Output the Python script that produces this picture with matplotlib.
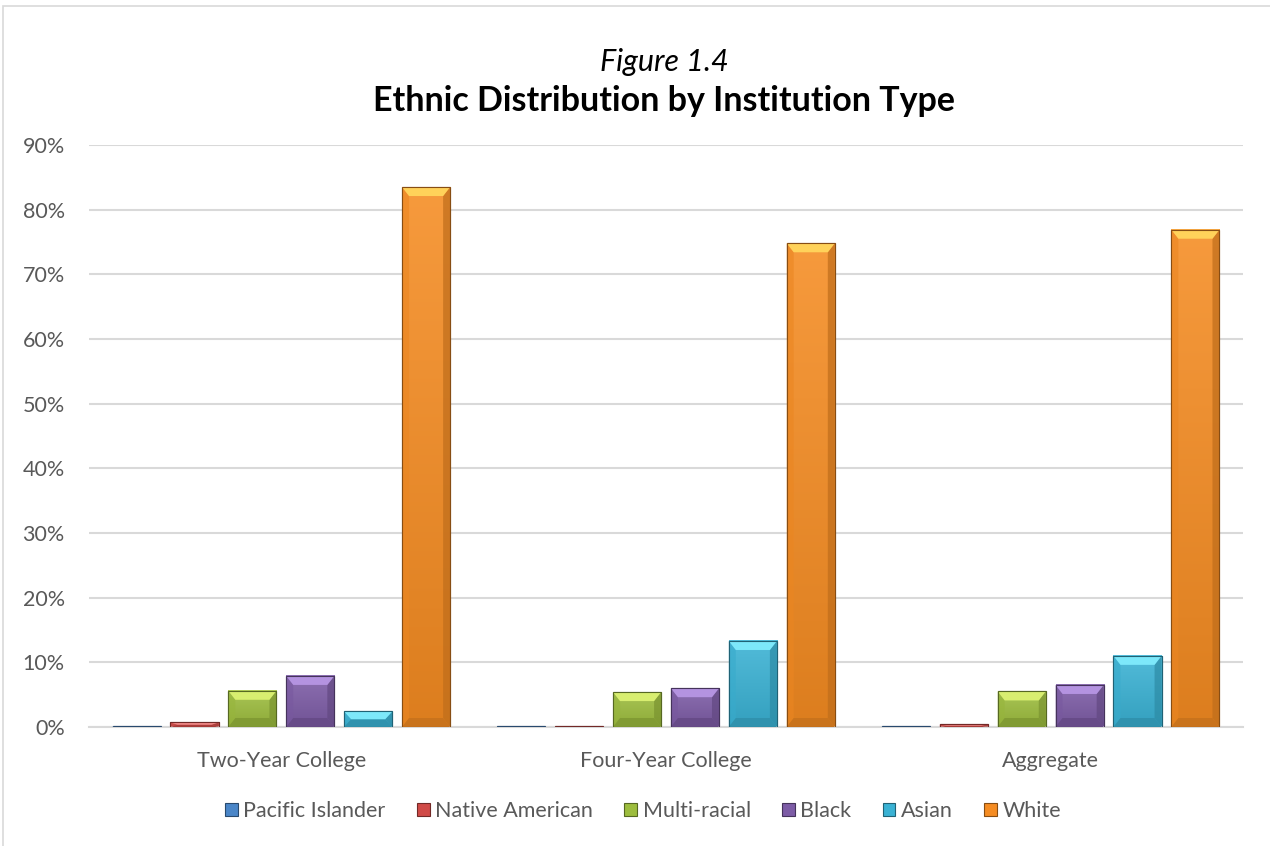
import matplotlib
matplotlib.use("Agg")
import matplotlib.pyplot as plt
from matplotlib.patches import Polygon, Rectangle
from matplotlib.ticker import FuncFormatter
import matplotlib.colors as mcolors
import numpy as np

plt.rcParams['font.family'] = ['Lato', 'DejaVu Sans']

categories = ["Two-Year College", "Four-Year College", "Aggregate"]
series = ["Pacific Islander", "Native American", "Multi-racial", "Black", "Asian", "White"]
pacific_islander = [0.001, 0.001, 0.001]
native_american = [0.007, 0.001, 0.004]
multi_racial = [0.056, 0.054, 0.055]
black = [0.079, 0.060, 0.065]
asian = [0.024, 0.133, 0.110]
white = [0.835, 0.748, 0.769]
values = [pacific_islander, native_american, multi_racial, black, asian, white]
colors = ["#4A86C8", "#D04A47", "#9DBD3E", "#7D5CA6", "#3AB2D4", "#F58C22"]
bevel_colors = ["#8EC0F0", "#F08A88", "#D8EE70", "#B493E0", "#7DE8FA", "#FFD25A"]
yticks = [0, 0.1, 0.2, 0.3, 0.4, 0.5, 0.6, 0.7, 0.8, 0.9]

W, H = 1270, 846
fig = plt.figure(figsize=(W / 100, H / 100), dpi=100)
fig.patch.set_facecolor("white")

# chart border
fig.add_artist(Rectangle((3 / W, -0.1), 1.2, 1 - 6 / H + 0.1, transform=fig.transFigure,
                         fill=False, edgecolor="#D9D9D9", linewidth=1.2))

ax_l, ax_r = 89 / W, 1243 / W
ax_b, ax_t = 1 - 727 / H, 1 - 145 / H
ax = fig.add_axes([ax_l, ax_b, ax_r - ax_l, ax_t - ax_b])
ax_h_px = (ax_t - ax_b) * H
ax_w_px = (ax_r - ax_l) * W

for s in ["top", "right", "left"]:
    ax.spines[s].set_visible(False)
ax.spines["bottom"].set_color("#D9D9D9")
ax.spines["bottom"].set_linewidth(1.5)
ax.set_yticks(yticks)
ax.yaxis.set_major_formatter(FuncFormatter(lambda v, p: f"{v*100:.0f}%"))
ax.grid(axis="y", color="#D9D9D9", linewidth=1.5)
ax.set_axisbelow(True)
ax.tick_params(axis="both", length=0, labelsize=15.5, colors="#595959")
ax.tick_params(axis="y", pad=17.5)
ax.tick_params(axis="x", pad=17)
ax.set_xticks(range(len(categories)))
ax.set_xticklabels(categories)

step = 57.8 / 384
width = 48 / 384
x = np.arange(len(categories))


def shade(c, f):
    r, g, b = mcolors.to_rgb(c)
    if f >= 0:
        return (r + (1 - r) * f, g + (1 - g) * f, b + (1 - b) * f)
    return (r * (1 + f), g * (1 + f), b * (1 + f))


bx_full = 7 / ax_w_px * 3.0
by_full = 9 / ax_h_px * 0.9
for j, (name, vals, col, bcol) in enumerate(zip(series, values, colors, bevel_colors)):
    xs = x + (j - 2.5) * step
    bars = ax.bar(xs, vals, width=width, color=col, edgecolor=shade(col, -0.45),
                  linewidth=0.8, label=name, zorder=2)
    for bar in bars:
        x0 = bar.get_x()
        w = bar.get_width()
        h = bar.get_height()
        # vertical gradient body: lighter at top, darker at bottom
        top_c = np.array(shade(col, 0.12))
        bot_c = np.array(shade(col, -0.1))
        t = np.linspace(0, 1, 64)[:, None]
        grad = (bot_c[None, :] * (1 - t) + top_c[None, :] * t)[:, None, :]
        ax.imshow(grad, extent=(x0, x0 + w, 0, h), origin="lower", aspect="auto",
                  interpolation="bilinear", zorder=2.5)
        by = min(by_full, h / 2)
        bx = min(bx_full, w / 2)
        top = Polygon([(x0, h), (x0 + w, h), (x0 + w - bx, h - by), (x0 + bx, h - by)],
                      closed=True, facecolor=bcol, edgecolor="none", zorder=3)
        left = Polygon([(x0, 0), (x0, h), (x0 + bx, h - by), (x0 + bx, by)],
                       closed=True, facecolor=shade(col, -0.04), edgecolor="none",
                       alpha=0.6, zorder=3)
        right = Polygon([(x0 + w, 0), (x0 + w, h), (x0 + w - bx, h - by), (x0 + w - bx, by)],
                        closed=True, facecolor=shade(col, -0.22), edgecolor="none",
                        alpha=0.7, zorder=3)
        bottom = Polygon([(x0, 0), (x0 + w, 0), (x0 + w - bx, by), (x0 + bx, by)],
                         closed=True, facecolor=shade(col, -0.18), edgecolor="none", zorder=3)
        for p in (left, right, bottom, top):
            ax.add_patch(p)
        ax.add_patch(Rectangle((x0, 0), w, h, fill=False, edgecolor=shade(col, -0.45),
                               linewidth=0.8, zorder=4))

ax.set_xlim(-0.5, 2.5)
ax.set_ylim(0, 0.9)

handles = [Rectangle((0, 0), 1, 1, facecolor=c, edgecolor=shade(c, -0.45), linewidth=0.8)
           for c in colors]
leg = fig.legend(handles, series, loc="center", bbox_to_anchor=(643 / W, 1 - 811 / H),
                 ncol=6, frameon=False, fontsize=15.5, handlelength=0.6, handleheight=0.6,
                 handletextpad=0.25, columnspacing=1.45)
for t in leg.get_texts():
    t.set_color("#595959")

fig.text(664 / W, 1 - 62 / H, "Figure 1.4", ha="center", va="center",
         fontsize=22, style="italic", color="black")
fig.text(664 / W, 1 - 101 / H, "Ethnic Distribution by Institution Type", ha="center",
         va="center", fontsize=24.5, fontweight="bold", color="black")

fig.savefig("out.png", dpi=100)
